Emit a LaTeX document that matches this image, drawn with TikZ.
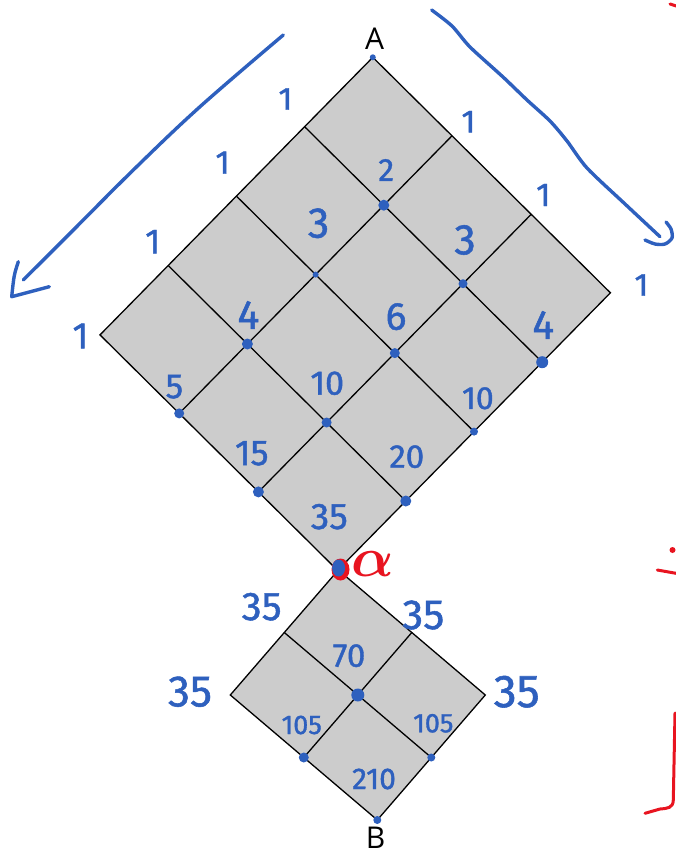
\documentclass[tikz,border=0pt]{standalone}
\usepackage{bm}
\usepackage{fontspec}
\setmainfont{Fira Sans}
\newfontfamily\labfont{Open Sans}
\newfontfamily\handfont{Fira Sans}[FakeBold=1.2]
\usetikzlibrary{calc}
\definecolor{inkblue}{RGB}{46,96,190}
\definecolor{inkred}{RGB}{232,20,32}
\definecolor{cellgray}{RGB}{204,204,204}
\newcommand\fsz[1]{\fontsize{#1}{#1}\selectfont}
\begin{document}
\begin{tikzpicture}[x=1pt,y=-1pt,
  gridline/.style={line width=1.3pt, black, line join=miter},
  num/.style={inkblue, inner sep=0pt, font=\handfont\fsz{#1}},
  corner/.style={black, inner sep=0pt, font=\labfont\fsz{30}},
  dot/.style={circle, fill=inkblue, inner sep=0pt, minimum size=#1},
  arrowink/.style={inkblue, line width=3.4pt, line cap=round, line join=round},
  redink/.style={inkred, line width=3pt, line cap=round, line join=round}]
\useasboundingbox (0,0) rectangle (675,856);

% ---------- big grid (4 x 3) ----------
\coordinate (A0) at (372.8,57.3);
\coordinate (L) at (-68.2,69.4);
\coordinate (R) at (79.2,78.5);
\filldraw[gridline, fill=cellgray] (A0) -- ($(A0)+3*(R)$) -- ($(A0)+3*(R)+4*(L)$) -- ($(A0)+4*(L)$) -- cycle;
\foreach \i in {1,...,3}
  \draw[gridline] ($(A0)+\i*(L)$) -- ($(A0)+\i*(L)+3*(R)$);
\foreach \j in {1,2}
  \draw[gridline] ($(A0)+\j*(R)$) -- ($(A0)+\j*(R)+4*(L)$);

% ---------- small grid (2 x 2) ----------
\coordinate (T0) at (338.3,570);
\coordinate (L2) at (-54,62.5);
\coordinate (R2) at (73.5,62.5);
\filldraw[gridline, fill=cellgray] (T0) -- ($(T0)+2*(R2)$) -- ($(T0)+2*(R2)+2*(L2)$) -- ($(T0)+2*(L2)$) -- cycle;
\draw[gridline] ($(T0)+(L2)$) -- ($(T0)+(L2)+2*(R2)$);
\draw[gridline] ($(T0)+(R2)$) -- ($(T0)+(R2)+2*(L2)$);

% ---------- dots ----------
\node[dot=6]  (dA)  at (A0) {};
\node[dot=11] (d11) at ($(A0)+(L)+(R)$) {};
\node[dot=6]  (d21) at ($(A0)+2*(L)+(R)$) {};
\node[dot=9]  (d12) at ($(A0)+(L)+2*(R)$) {};
\node[dot=11] (d31) at ($(A0)+3*(L)+(R)$) {};
\node[dot=10] (d22) at ($(A0)+2*(L)+2*(R)$) {};
\node[dot=12] (d13) at ($(A0)+(L)+3*(R)$) {};
\node[dot=10] (d41) at ($(A0)+4*(L)+(R)$) {};
\node[dot=10] (d32) at ($(A0)+3*(L)+2*(R)$) {};
\node[dot=8]  (d23) at ($(A0)+2*(L)+3*(R)$) {};
\node[dot=11] (d42) at ($(A0)+4*(L)+2*(R)$) {};
\node[dot=11] (d33) at ($(A0)+3*(L)+3*(R)$) {};
\fill[inkred] (340.5,569.5) ellipse (9 and 11);
\fill[inkblue] (338.6,568) ellipse (6.5 and 8.5);
\node[dot=13] (dc)  at ($(T0)+(L2)+(R2)$) {};
\node[dot=10] (dbl) at ($(T0)+2*(L2)+(R2)$) {};
\node[dot=8]  (dbr) at ($(T0)+(L2)+2*(R2)$) {};
\node[dot=8]  (dB)  at ($(T0)+2*(L2)+2*(R2)$) {};

% ---------- corner labels ----------
\node[corner] (labA) at (374.5,38.5) {A};
\node[corner] (labB) at (375.5,838) {B};
\node[inkred, inner sep=0pt, scale=2.7, font=\fsz{20}] (alpha) at (373,564) {$\bm{\alpha}$};

% ---------- edge ones ----------
\node[num=32] (o1) at (285.4,99) {1};
\node[num=33] (o2) at (222.6,162.7) {1};
\node[num=35] (o3) at (152.8,241.7) {1};
\node[num=37] (o4) at (80.5,336) {1};
\node[num=32] (o5) at (468.4,121.7) {1};
\node[num=33] (o6) at (543.3,195) {1};
\node[num=32] (o7) at (641.4,285) {1};

% ---------- cell numbers ----------
\node[num=32] (n2)   at (386.2,170) {2};
\node[num=43] (n3a)  at (318.6,223.3) {3};
\node[num=43] (n3b)  at (465,240) {3};
\node[num=41] (n4a)  at (248.4,315) {4};
\node[num=39] (n6)   at (396,316.7) {6};
\node[num=41] (n4b)  at (543.3,325) {4};
\node[num=35] (n5)   at (174.4,386.7) {5};
\node[num=34] (n10a) at (327.2,383.3) {10};
\node[num=32] (n10b) at (477.9,398.3) {10};
\node[num=36] (n15)  at (251.8,453.3) {15};
\node[num=33] (n20)  at (406.8,456.7) {20};
\node[num=37] (n35)  at (329.3,516.7) {35};

\node[num=40] (s35a) at (261.7,606.7) {35};
\node[num=42] (s35b) at (423.3,615) {35};
\node[num=33] (s70)  at (349,655.7) {70};
\node[num=44] (s35c) at (190,691.7) {35};
\node[num=46] (s35d) at (516.7,691.7) {35};
\node[num=27] (s105a) at (301.7,725) {105};
\node[num=27] (s105b) at (433.3,723.3) {105};
\node[num=30] (s210) at (374,779) {210};

% ---------- blue arrows ----------
\draw[arrowink] plot[smooth, tension=0.6] coordinates
  {(283.3,35) (200,106.7) (133.3,170) (66.7,236.7) (23.3,280)};
\draw[arrowink] (18.3,261.7) .. controls (14,275) .. (11.7,296.7) .. controls (30,292) .. (49.3,286.7);
\draw[arrowink] plot[smooth, tension=0.45] coordinates
  {(431.7,10) (452,26) (470,47) (503,77) (527,100) (550,121) (567,141)
   (587,168) (625,204) (660,236.7)};
\draw[arrowink] plot[smooth, tension=0.5] coordinates
  {(666,222) (671,229) (672,238) (665,244) (655,244) (645,240)};

% ---------- red marks at the right edge ----------
\draw[redink] (670,4) -- (676,6);
\fill[inkred] (672.5,550) circle (3);
\draw[redink] (657.3,570) -- (676,573.3);
\draw[redink] (675,713) -- (673.3,800) .. controls (673,808) and (668,808.3) .. (660,809) -- (645,813.3);
\end{tikzpicture}
\end{document}
